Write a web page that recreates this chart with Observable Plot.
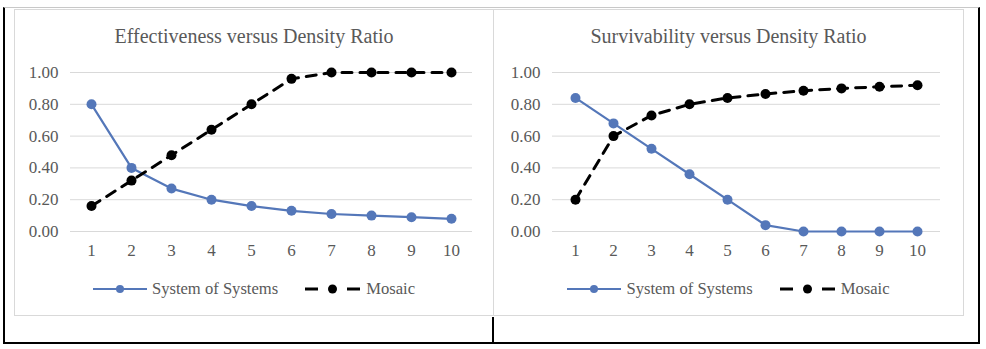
<!DOCTYPE html>
<html><head><meta charset="utf-8">
<script src="https://cdn.jsdelivr.net/npm/d3@7"></script>
<script src="https://cdn.jsdelivr.net/npm/@observablehq/plot@0.6"></script>
<style>
body{margin:0;background:#fff;font-family:"Liberation Serif","Times New Roman",serif;}
#page{position:relative;width:986px;height:349px;overflow:hidden;background:#fff;}
#frame{position:absolute;left:3px;top:7px;width:977px;height:337px;box-sizing:border-box;border-left:2px solid #000;border-right:2px solid #000;border-bottom:2px solid #000;border-top:1px solid #c8c8c8;}
#mid{position:absolute;left:492px;top:317px;width:2px;height:26px;background:#000;}
.panel{position:absolute;top:9px;height:307px;box-sizing:border-box;border:1px solid #d9d9d9;background:#fff;}
.title{position:absolute;left:0;right:0;top:16px;text-align:center;font-size:20px;line-height:20px;color:#595959;}
.chart{position:absolute;left:0;top:45px;}
.chart, .chart text{font-family:"Liberation Serif","Times New Roman",serif !important;}
.legend{position:absolute;left:0;right:0;top:269px;height:20px;display:flex;justify-content:center;align-items:center;font-size:16.6px;color:#595959;}
.legend .item{display:flex;align-items:center;}
.legend svg{display:block;}
</style>
</head><body>
<div id="page">
  <div id="frame"></div>
  <div id="mid"></div>
  <div class="panel" id="p0" style="left:14px;width:480px;"></div>
  <div class="panel" id="p1" style="left:493px;width:471px;"></div>
</div>
<script>
const densityRatio = [1, 2, 3, 4, 5, 6, 7, 8, 9, 10];
const effectivenessSoS = [0.80, 0.40, 0.27, 0.20, 0.16, 0.13, 0.11, 0.10, 0.09, 0.08];
const effectivenessMosaic = [0.16, 0.32, 0.48, 0.64, 0.80, 0.96, 1.00, 1.00, 1.00, 1.00];
const survivabilitySoS = [0.84, 0.68, 0.52, 0.36, 0.20, 0.04, 0.00, 0.00, 0.00, 0.00];
const survivabilityMosaic = [0.20, 0.60, 0.73, 0.80, 0.84, 0.865, 0.885, 0.90, 0.91, 0.92];
const yTicks = [0, 0.2, 0.4, 0.6, 0.8, 1.0];
const seriesNames = ["System of Systems", "Mosaic"];
const chartTitles = ["Effectiveness versus Density Ratio", "Survivability versus Density Ratio"];

const blue = "#5477b9";
const grid = "#d9d9d9";
const text = "#595959";

function build(panelId, title, sos, mosaic, innerWidth, mLeft, mRight) {
  const panel = document.getElementById(panelId);
  const t = document.createElement("div");
  t.className = "title";
  t.textContent = title;
  panel.appendChild(t);

  const rows = densityRatio.map((x, i) => ({x, sos: sos[i], mosaic: mosaic[i]}));
  const plot = Plot.plot({
    width: innerWidth,
    height: 220,
    marginLeft: mLeft,
    marginRight: mRight,
    marginTop: 17,
    marginBottom: 44,
    style: {fontFamily: "'Liberation Serif', 'Times New Roman', serif", fontSize: "17px", color: text, background: "transparent", overflow: "visible"},
    x: {type: "point", domain: densityRatio, padding: 0.5, label: null},
    y: {domain: [0, 1], label: null},
    marks: [
      Plot.ruleY(yTicks, {stroke: grid, strokeWidth: 1}),
      Plot.axisY({ticks: yTicks, tickFormat: d3.format(".2f"), tickSize: 0, tickPadding: 12, label: null, fontSize: 17}),
      Plot.axisX({tickSize: 0, tickPadding: 12, label: null, fontSize: 17}),
      Plot.line(rows, {x: "x", y: "sos", stroke: blue, strokeWidth: 2.2}),
      Plot.dot(rows, {x: "x", y: "sos", r: 5, fill: blue, stroke: "none"}),
      Plot.line(rows, {x: "x", y: "mosaic", stroke: "#000", strokeWidth: 3, strokeDasharray: "10,8"}),
      Plot.dot(rows, {x: "x", y: "mosaic", r: 5, fill: "#000", stroke: "none"})
    ]
  });
  plot.classList.add("chart");
  panel.appendChild(plot);

  const lg = document.createElement("div");
  lg.className = "legend";
  lg.innerHTML =
    `<div class="item"><svg width="54" height="14"><line x1="0" x2="54" y1="7" y2="7" stroke="${blue}" stroke-width="2.2"/><circle cx="27" cy="7" r="4" fill="${blue}"/></svg><span style="margin-left:5px">${seriesNames[0]}</span></div>` +
    `<div class="item" style="margin-left:27px"><svg width="55" height="14"><line x1="0" x2="13" y1="7" y2="7" stroke="#000" stroke-width="3"/><line x1="42" x2="55" y1="7" y2="7" stroke="#000" stroke-width="3"/><circle cx="27.5" cy="7" r="4.5" fill="#000"/></svg><span style="margin-left:6px">${seriesNames[1]}</span></div>`;
  panel.appendChild(lg);
}

build("p0", chartTitles[0], effectivenessSoS, effectivenessMosaic, 478, 55, 21);
build("p1", chartTitles[1], survivabilitySoS, survivabilityMosaic, 469, 58, 23);
</script>
</body></html>
